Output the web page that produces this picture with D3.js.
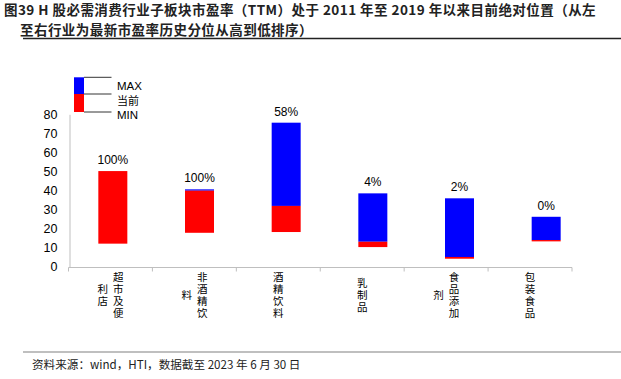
<!DOCTYPE html>
<html>
<head>
<meta charset="utf-8">
<style>
  body { margin: 0; background: #fff; }
  svg { display: block; font-family: Arial, "Liberation Sans", "Noto Sans CJK SC", sans-serif; }
  .axis path, .axis line { stroke: #bfbfbf; }
  .cjk { font-family: "Noto Sans CJK SC", sans-serif; }
  .vert { writing-mode: vertical-rl; text-orientation: upright; }
</style>
</head>
<body>
<div id="chart"></div>
<script src="https://d3js.org/d3.v7.min.js"></script>
<script>
// data
var categories = ["超市及便利店", "非酒精饮料", "酒精饮料", "乳制品", "食品添加剂", "包装食品"];
var minPE = [12.1, 17.8, 18.2, 10.3, 4.2, 13.3];
var currentPE = [50.2, 39.9, 31.9, 13.1, 5.1, 14.0];
var maxPE = [50.2, 40.6, 75.6, 38.5, 35.9, 26.2];
var percentile = ["100%", "100%", "58%", "4%", "2%", "0%"];
var yTicks = [0, 10, 20, 30, 40, 50, 60, 70, 80];

var W = 621, H = 379;
var svg = d3.select("#chart").append("svg").attr("width", W).attr("height", H);

// title
svg.append("text").attr("class", "cjk").attr("x", 4).attr("y", 15)
  .attr("font-size", 13.5).attr("letter-spacing", 0.45).attr("font-weight", "bold").attr("fill", "#222")
  .text("图39 H 股必需消费行业子板块市盈率（TTM）处于 2011 年至 2019 年以来目前绝对位置（从左");
svg.append("text").attr("class", "cjk").attr("x", 20).attr("y", 34.5)
  .attr("font-size", 13.5).attr("letter-spacing", 0.45).attr("font-weight", "bold").attr("fill", "#222")
  .text("至右行业为最新市盈率历史分位从高到低排序）");
svg.append("line").attr("x1", 23).attr("x2", 621).attr("y1", 38.5).attr("y2", 38.5)
  .attr("stroke", "#222").attr("stroke-width", 1.5);

// scales
var y = d3.scaleLinear().domain([0, 80]).range([266.7, 114.3]);
var xAxisScale = d3.scaleBand().domain(categories).range([68.5, 572]);
var xBar = d3.scaleBand().domain(categories).range([69.5, 589.5]);
var barW = 29;

// y axis
var yAxis = svg.append("g").attr("class", "axis").attr("transform", "translate(69.5,0)")
  .call(d3.axisLeft(y).tickValues(yTicks).tickSize(0).tickPadding(12));
yAxis.selectAll("text").attr("font-size", 12.5).attr("fill", "#000").attr("font-family", "Arial, 'Liberation Sans'");

// x axis with ticks at band edges
var xg = svg.append("g").attr("class", "axis").attr("transform", "translate(0,267.5)");
xg.append("line").attr("x1", xAxisScale.range()[0]).attr("x2", xAxisScale.range()[1])
  .attr("stroke", "#bfbfbf");
var edges = categories.map(function(c) { return xAxisScale(c); }).concat([xAxisScale.range()[1]]);
xg.selectAll(".tk").data(edges).enter().append("line")
  .attr("x1", function(d) { return d; }).attr("x2", function(d) { return d; })
  .attr("y1", 0).attr("y2", 4).attr("stroke", "#bfbfbf");

// vertical category labels, columns of 4 chars from right to left
var colW = 15.5;
categories.forEach(function(c) {
  var chars = Array.from(c), cols = [];
  for (var i = 0; i < chars.length; i += 4) cols.push(chars.slice(i, i + 4).join(""));
  var cx = xAxisScale(c) + xAxisScale.bandwidth() / 2;
  var x0 = cx + (cols.length - 1) * colW / 2;
  cols.forEach(function(col, ci) {
    svg.append("text").attr("class", "cjk vert")
      .attr("x", x0 - ci * colW).attr("y", 296)
      .attr("text-anchor", "middle")
      .attr("font-size", 10.5).attr("letter-spacing", 1.5).attr("fill", "#000").text(col);
  });
});

// bars: red = min..current, blue = current..max
var g = svg.append("g");
categories.forEach(function(c, i) {
  var bx = xBar(c) + xBar.bandwidth() / 2 - barW / 2;
  g.append("rect").attr("x", bx).attr("width", barW)
    .attr("y", y(maxPE[i])).attr("height", y(currentPE[i]) - y(maxPE[i]))
    .attr("fill", "#0000ff");
  g.append("rect").attr("x", bx).attr("width", barW)
    .attr("y", y(currentPE[i])).attr("height", y(minPE[i]) - y(currentPE[i]))
    .attr("fill", "#ff0000");
  g.append("text").attr("x", bx + barW / 2).attr("y", y(maxPE[i]) - 7)
    .attr("text-anchor", "middle").attr("font-size", 12).attr("fill", "#000")
    .text(percentile[i]);
});

// legend
var lg = svg.append("g");
lg.append("rect").attr("x", 74).attr("y", 77.3).attr("width", 10).attr("height", 16.7).attr("fill", "#0000ff");
lg.append("rect").attr("x", 74).attr("y", 94).attr("width", 10).attr("height", 18).attr("fill", "#ff0000");
[77.3, 94, 112].forEach(function(ly) {
  lg.append("line").attr("x1", 84).attr("x2", 111.5).attr("y1", ly).attr("y2", ly)
    .attr("stroke", "#000").attr("stroke-width", 0.8);
});
lg.append("text").attr("x", 117).attr("y", 89.5).attr("font-size", 11.5).text("MAX");
lg.append("text").attr("class", "cjk").attr("x", 117).attr("y", 104.5).attr("font-size", 11).text("当前");
lg.append("text").attr("x", 117).attr("y", 118.5).attr("font-size", 11.5).text("MIN");

// source
svg.append("line").attr("x1", 23).attr("x2", 621).attr("y1", 352).attr("y2", 352)
  .attr("stroke", "#808080").attr("stroke-width", 1.2);
svg.append("text").attr("class", "cjk").attr("x", 32).attr("y", 369)
  .attr("font-size", 11.6).attr("fill", "#222")
  .text("资料来源：wind，HTI，数据截至 2023 年 6 月 30 日");
</script>
</body>
</html>
